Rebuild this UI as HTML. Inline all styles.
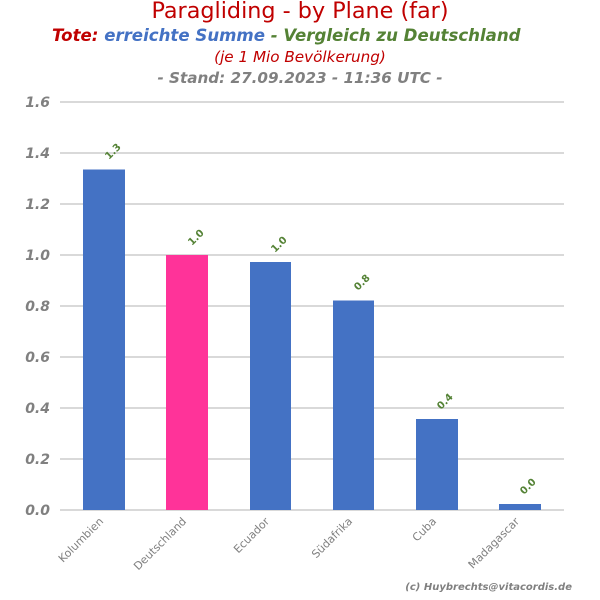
<!DOCTYPE html>
<html><head><style>body{margin:0;background:#fff}svg{display:block}text{font-family:"DejaVu Sans",sans-serif}</style></head><body>
<svg width="600" height="600" xmlns="http://www.w3.org/2000/svg">
<text x="300" y="18" text-anchor="middle" font-size="22.3" fill="#c00000">Paragliding - by Plane (far)</text>
<text y="41" font-size="16.6" font-weight="bold" font-style="italic"><tspan x="52" fill="#c00000">Tote: </tspan><tspan fill="#4472c4">erreichte Summe</tspan><tspan fill="#548235"> - Vergleich zu Deutschland</tspan></text>
<text x="300" y="62" text-anchor="middle" font-size="15.2" font-style="italic" fill="#c00000">(je 1 Mio Bevölkerung)</text>
<text x="300" y="83" text-anchor="middle" font-size="15.2" font-weight="bold" font-style="italic" fill="#808080">- Stand: 27.09.2023 - 11:36 UTC -</text>
<g stroke="#d9d9d9" stroke-width="2">
<line x1="60" x2="564" y1="102" y2="102"/><line x1="60" x2="564" y1="153" y2="153"/><line x1="60" x2="564" y1="204" y2="204"/><line x1="60" x2="564" y1="255" y2="255"/><line x1="60" x2="564" y1="306" y2="306"/><line x1="60" x2="564" y1="357" y2="357"/><line x1="60" x2="564" y1="408" y2="408"/><line x1="60" x2="564" y1="459" y2="459"/><line x1="60" x2="564" y1="510" y2="510"/>
</g>
<g font-size="14" font-weight="bold" font-style="italic" fill="#808080" text-anchor="end">
<text x="50" y="107">1.6</text><text x="50" y="158">1.4</text><text x="50" y="209">1.2</text><text x="50" y="260">1.0</text><text x="50" y="311">0.8</text><text x="50" y="362">0.6</text><text x="50" y="413">0.4</text><text x="50" y="464">0.2</text><text x="50" y="515">0.0</text>
</g>
<rect x="83" y="169.5" width="42" height="340.5" fill="#4472c4"/>
<rect x="166" y="255" width="42" height="255" fill="#ff3399"/>
<rect x="250" y="262" width="41" height="248" fill="#4472c4"/>
<rect x="333" y="300.5" width="41" height="209.5" fill="#4472c4"/>
<rect x="416" y="419" width="42" height="91" fill="#4472c4"/>
<rect x="499" y="504" width="42" height="6" fill="#4472c4"/>
<g font-size="10" font-weight="bold" fill="#548235">
<text transform="translate(109,160) rotate(-45)">1.3</text>
<text transform="translate(192,246) rotate(-45)">1.0</text>
<text transform="translate(275,253) rotate(-45)">1.0</text>
<text transform="translate(358,291) rotate(-45)">0.8</text>
<text transform="translate(441,410) rotate(-45)">0.4</text>
<text transform="translate(524,495) rotate(-45)">0.0</text>
</g>
<g font-size="11" fill="#808080" text-anchor="end">
<text transform="translate(104,522) rotate(-45)">Kolumbien</text>
<text transform="translate(187,522) rotate(-45)">Deutschland</text>
<text transform="translate(270,522) rotate(-45)">Ecuador</text>
<text transform="translate(353,522) rotate(-45)">Südafrika</text>
<text transform="translate(437,522) rotate(-45)">Cuba</text>
<text transform="translate(520,522) rotate(-45)">Madagascar</text>
</g>
<text x="572" y="590" text-anchor="end" font-size="10" font-weight="bold" font-style="italic" fill="#808080">(c) Huybrechts@vitacordis.de</text>
</svg>
</body></html>
